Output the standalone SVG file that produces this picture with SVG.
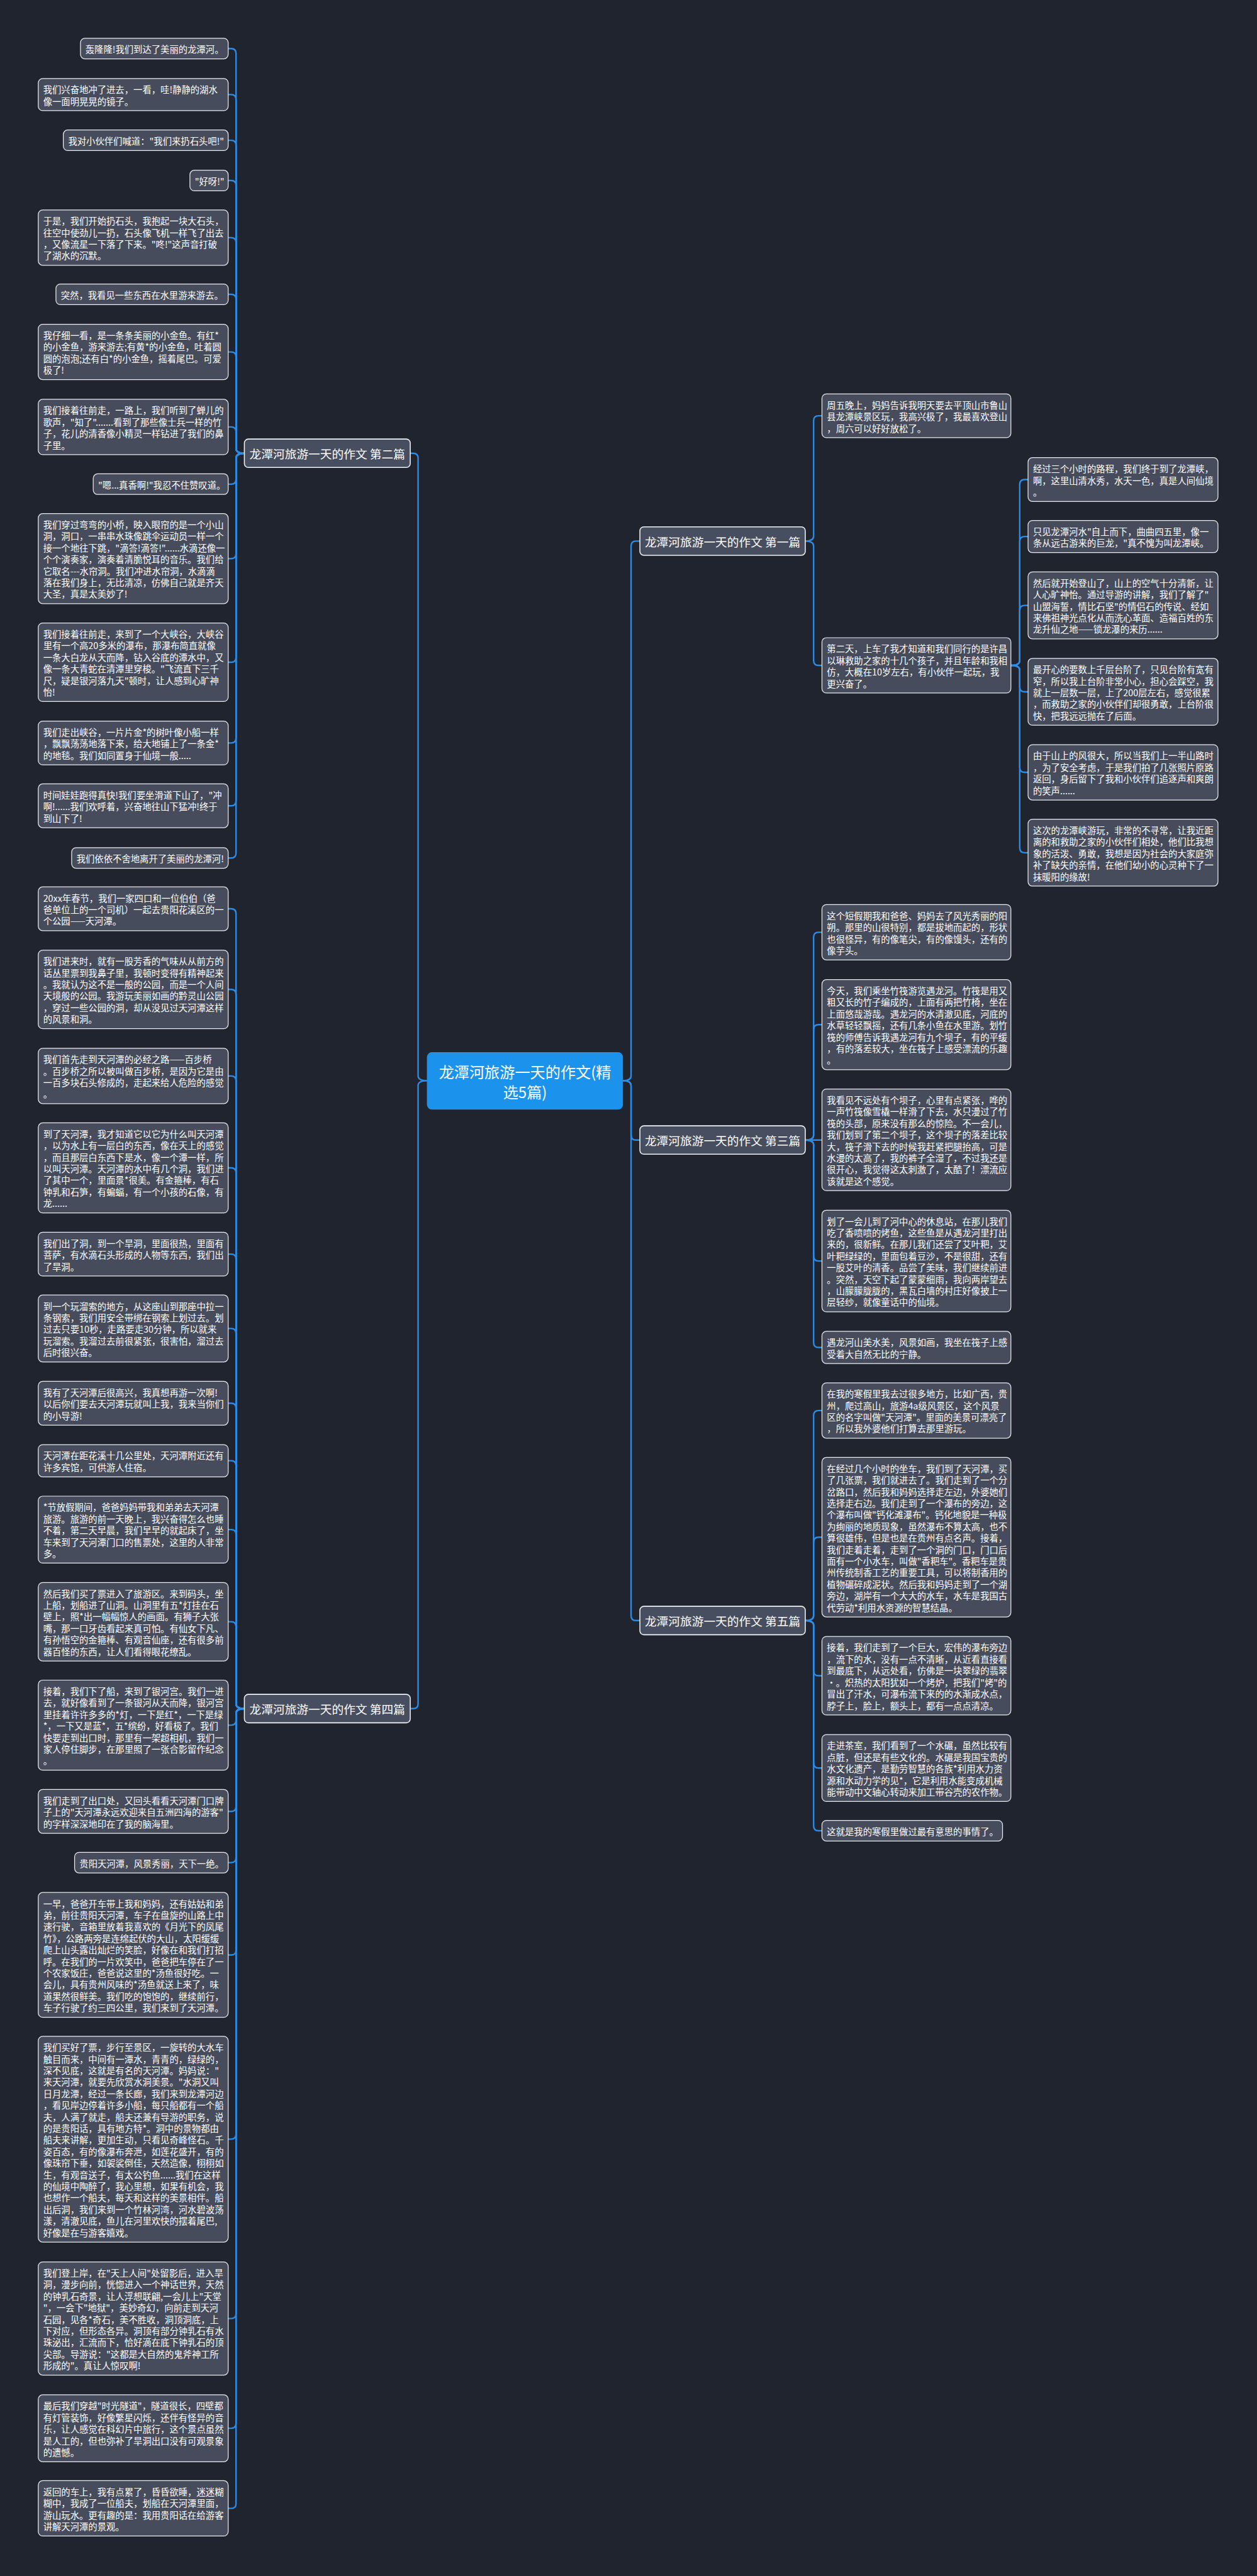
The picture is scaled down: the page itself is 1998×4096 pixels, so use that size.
<svg xmlns="http://www.w3.org/2000/svg" width="1998" height="4096" viewBox="0 0 1998 4096">
<style>
.bg{fill:#20242e}
.t{font-family:'Noto Sans CJK SC','Noto Sans',sans-serif;dominant-baseline:central}
.leaf rect{fill:#464c5c;stroke:#e9ebf0;stroke-width:1.6}
.leaf text{fill:#ffffff;font-size:18.4px}
.br rect{fill:#474e60;stroke:#f0f2f5;stroke-width:2}
.br text{fill:#ffffff;font-size:24px;text-anchor:middle}
.root rect{fill:#1b92ec}
.root text{fill:#ffffff;font-size:31px;text-anchor:middle}
.conn path{fill:none;stroke:#2b8de8;stroke-width:3;stroke-linecap:round}
</style>
<rect class="bg" x="0" y="0" width="1998" height="4096"/>
<g transform="scale(0.78)">
<g id="connectors" class="conn">
<path d="M870 2203Q852 2203 852 2193L852 934Q852 924 842 924L836 924"/>
<path d="M870 2203Q852 2203 852 2213L852 3473Q852 3483 842 3483L836 3483"/>
<path d="M1270 2203Q1286 2203 1286 2193L1286 1113Q1286 1103 1296 1103L1304 1103"/>
<path d="M1270 2203Q1286 2203 1286 2213L1286 2314Q1286 2324 1296 2324L1304 2324"/>
<path d="M1270 2203Q1286 2203 1286 2213L1286 3293.5Q1286 3303.5 1296 3303.5L1304 3303.5"/>
<path d="M498 924Q481 924 481 914L481 109Q481 99 471 99L465 99"/>
<path d="M498 924Q481 924 481 914L481 202.8Q481 192.8 471 192.8L465 192.8"/>
<path d="M498 924Q481 924 481 914L481 296Q481 286 471 286L465 286"/>
<path d="M498 924Q481 924 481 914L481 378Q481 368 471 368L465 368"/>
<path d="M498 924Q481 924 481 914L481 494.4Q481 484.4 471 484.4L465 484.4"/>
<path d="M498 924Q481 924 481 914L481 610Q481 600 471 600L465 600"/>
<path d="M498 924Q481 924 481 914L481 727.4Q481 717.4 471 717.4L465 717.4"/>
<path d="M498 924Q481 924 481 914L481 880.4Q481 870.4 471 870.4L465 870.4"/>
<path d="M498 924Q481 924 481 934L481 977Q481 987 471 987L465 987"/>
<path d="M498 924Q481 924 481 934L481 1128.8Q481 1138.8 471 1138.8L465 1138.8"/>
<path d="M498 924Q481 924 481 934L481 1340Q481 1350 471 1350L465 1350"/>
<path d="M498 924Q481 924 481 934L481 1504.6Q481 1514.6 471 1514.6L465 1514.6"/>
<path d="M498 924Q481 924 481 934L481 1632.6Q481 1642.6 471 1642.6L465 1642.6"/>
<path d="M498 924Q481 924 481 934L481 1739Q481 1749 471 1749L465 1749"/>
<path d="M498 3483Q481 3483 481 3473L481 1862.6Q481 1852.6 471 1852.6L465 1852.6"/>
<path d="M498 3483Q481 3483 481 3473L481 2027Q481 2017 471 2017L465 2017"/>
<path d="M498 3483Q481 3483 481 3473L481 2203.4Q481 2193.4 471 2193.4L465 2193.4"/>
<path d="M498 3483Q481 3483 481 3473L481 2390.8Q481 2380.8 471 2380.8L465 2380.8"/>
<path d="M498 3483Q481 3483 481 3473L481 2566.6Q481 2556.6 471 2556.6L465 2556.6"/>
<path d="M498 3483Q481 3483 481 3473L481 2718.2Q481 2708.2 471 2708.2L465 2708.2"/>
<path d="M498 3483Q481 3483 481 3473L481 2870.6Q481 2860.6 471 2860.6L465 2860.6"/>
<path d="M498 3483Q481 3483 481 3473L481 2987.8Q481 2977.8 471 2977.8L465 2977.8"/>
<path d="M498 3483Q481 3483 481 3473L481 3128.2Q481 3118.2 471 3118.2L465 3118.2"/>
<path d="M498 3483Q481 3483 481 3473L481 3316Q481 3306 471 3306L465 3306"/>
<path d="M498 3483Q481 3483 481 3493L481 3506.8Q481 3516.8 471 3516.8L465 3516.8"/>
<path d="M498 3483Q481 3483 481 3493L481 3682.6Q481 3692.6 471 3692.6L465 3692.6"/>
<path d="M498 3483Q481 3483 481 3493L481 3787Q481 3797 471 3797L465 3797"/>
<path d="M498 3483Q481 3483 481 3493L481 3975.2Q481 3985.2 471 3985.2L465 3985.2"/>
<path d="M498 3483Q481 3483 481 3493L481 4350.8Q481 4360.8 471 4360.8L465 4360.8"/>
<path d="M498 3483Q481 3483 481 3493L481 4716.4Q481 4726.4 471 4726.4L465 4726.4"/>
<path d="M498 3483Q481 3483 481 3493L481 4940.2Q481 4950.2 471 4950.2L465 4950.2"/>
<path d="M498 3483Q481 3483 481 3493L481 5103.4Q481 5113.4 471 5113.4L465 5113.4"/>
<path d="M1641 1103Q1658 1103 1658 1093L1658 857.6Q1658 847.6 1668 847.6L1675 847.6"/>
<path d="M1641 1103Q1658 1103 1658 1113L1658 1346.4Q1658 1356.4 1668 1356.4L1675 1356.4"/>
<path d="M2060 1356.4Q2078 1356.4 2078 1346.4L2078 987.6Q2078 977.6 2088 977.6L2095 977.6"/>
<path d="M2060 1356.4Q2078 1356.4 2078 1346.4L2078 1103.8Q2078 1093.8 2088 1093.8L2095 1093.8"/>
<path d="M2060 1356.4Q2078 1356.4 2078 1346.4L2078 1244.2Q2078 1234.2 2088 1234.2L2095 1234.2"/>
<path d="M2060 1356.4Q2078 1356.4 2078 1366.4L2078 1400.2Q2078 1410.2 2088 1410.2L2095 1410.2"/>
<path d="M2060 1356.4Q2078 1356.4 2078 1366.4L2078 1564.4Q2078 1574.4 2088 1574.4L2095 1574.4"/>
<path d="M2060 1356.4Q2078 1356.4 2078 1366.4L2078 1728.2Q2078 1738.2 2088 1738.2L2095 1738.2"/>
<path d="M1641 2324Q1658 2324 1658 2314L1658 1910.4Q1658 1900.4 1668 1900.4L1675 1900.4"/>
<path d="M1641 2324Q1658 2324 1658 2314L1658 2098.8Q1658 2088.8 1668 2088.8L1675 2088.8"/>
<path d="M1641 2324L1675 2324"/>
<path d="M1641 2324Q1658 2324 1658 2334L1658 2560.6Q1658 2570.6 1668 2570.6L1675 2570.6"/>
<path d="M1641 2324Q1658 2324 1658 2334L1658 2736.8Q1658 2746.8 1668 2746.8L1675 2746.8"/>
<path d="M1641 3303.5Q1658 3303.5 1658 3293.5L1658 2885.4Q1658 2875.4 1668 2875.4L1675 2875.4"/>
<path d="M1641 3303.5Q1658 3303.5 1658 3293.5L1658 3143.6Q1658 3133.6 1668 3133.6L1675 3133.6"/>
<path d="M1641 3303.5Q1658 3303.5 1658 3313.5L1658 3406Q1658 3416 1668 3416L1675 3416"/>
<path d="M1641 3303.5Q1658 3303.5 1658 3313.5L1658 3594.2Q1658 3604.2 1668 3604.2L1675 3604.2"/>
<path d="M1641 3303.5Q1658 3303.5 1658 3313.5L1658 3722Q1658 3732 1668 3732L1675 3732"/>
</g>

<g id="root" class="root">
<rect x="870" y="2145" width="399.5" height="117" rx="10"/>
<text class="t"><tspan x="1070" y="2183">龙潭河旅游一天的作文(精</tspan><tspan x="1070" y="2225">选5篇)</tspan></text>
</g>

<g id="b2" class="br"><rect x="498" y="895" width="338" height="58" rx="8"/><text class="t" x="667" y="924">龙潭河旅游一天的作文 第二篇</text></g>
<g id="b4" class="br"><rect x="498" y="3454" width="338" height="58" rx="8"/><text class="t" x="667" y="3483">龙潭河旅游一天的作文 第四篇</text></g>
<g id="b1" class="br"><rect x="1304" y="1074" width="337" height="58" rx="8"/><text class="t" x="1472.5" y="1103">龙潭河旅游一天的作文 第一篇</text></g>
<g id="b3" class="br"><rect x="1304" y="2295" width="337" height="58" rx="8"/><text class="t" x="1472.5" y="2324">龙潭河旅游一天的作文 第三篇</text></g>
<g id="b5" class="br"><rect x="1304" y="3274.5" width="337" height="58" rx="8"/><text class="t" x="1472.5" y="3303.5">龙潭河旅游一天的作文 第五篇</text></g>

<g id="l1" class="leaf"><rect x="164" y="78" width="301" height="42" rx="9"/><text class="t"><tspan x="174" y="99">轰隆隆!我们到达了美丽的龙潭河。</tspan></text></g>
<g id="l2" class="leaf"><rect x="78" y="160" width="387" height="65.6" rx="9"/><text class="t"><tspan x="88" y="181">我们兴奋地冲了进去，一看，哇!静静的湖水</tspan><tspan x="88" y="204.6">像一面明晃晃的镜子。</tspan></text></g>
<g id="l3" class="leaf"><rect x="129" y="265" width="336" height="42" rx="9"/><text class="t"><tspan x="139" y="286">我对小伙伴们喊道："我们来扔石头吧!"</tspan></text></g>
<g id="l4" class="leaf"><rect x="387" y="347" width="78" height="42" rx="9"/><text class="t"><tspan x="397" y="368">"好呀!"</tspan></text></g>
<g id="l5" class="leaf"><rect x="78" y="428" width="387" height="112.8" rx="9"/><text class="t"><tspan x="88" y="449">于是，我们开始扔石头，我抱起一块大石头，</tspan><tspan x="88" y="472.6">往空中使劲儿一扔，石头像飞机一样飞了出去</tspan><tspan x="88" y="496.2">，又像流星一下落了下来。"咚!"这声音打破</tspan><tspan x="88" y="519.8">了湖水的沉默。</tspan></text></g>
<g id="l6" class="leaf"><rect x="114" y="579" width="351" height="42" rx="9"/><text class="t"><tspan x="124" y="600">突然，我看见一些东西在水里游来游去。</tspan></text></g>
<g id="l7" class="leaf"><rect x="78" y="661" width="387" height="112.8" rx="9"/><text class="t"><tspan x="88" y="682">我仔细一看，是一条条美丽的小金鱼。有红*</tspan><tspan x="88" y="705.6">的小金鱼，游来游去;有黄*的小金鱼，吐着圆</tspan><tspan x="88" y="729.2">圆的泡泡;还有白*的小金鱼，摇着尾巴。可爱</tspan><tspan x="88" y="752.8">极了!</tspan></text></g>
<g id="l8" class="leaf"><rect x="78" y="814" width="387" height="112.8" rx="9"/><text class="t"><tspan x="88" y="835">我们接着往前走，一路上，我们听到了蝉儿的</tspan><tspan x="88" y="858.6">歌声，"知了".......看到了那些像士兵一样的竹</tspan><tspan x="88" y="882.2">子，花儿的清香像小精灵一样钻进了我们的鼻</tspan><tspan x="88" y="905.8">子里。</tspan></text></g>
<g id="l9" class="leaf"><rect x="190" y="966" width="275" height="42" rx="9"/><text class="t"><tspan x="200" y="987">"嗯...真香啊!"我忍不住赞叹道。</tspan></text></g>
<g id="l10" class="leaf"><rect x="78" y="1047" width="387" height="183.6" rx="9"/><text class="t"><tspan x="88" y="1068">我们穿过弯弯的小桥，映入眼帘的是一个小山</tspan><tspan x="88" y="1091.6">洞，洞口，一串串水珠像跳伞运动员一样一个</tspan><tspan x="88" y="1115.2">接一个地往下跳，"滴答!滴答!"......水滴还像一</tspan><tspan x="88" y="1138.8">个个演奏家，演奏着清脆悦耳的音乐。我们给</tspan><tspan x="88" y="1162.4">它取名---水帘洞。我们冲进水帘洞，水滴滴</tspan><tspan x="88" y="1186">落在我们身上，无比清凉，仿佛自己就是齐天</tspan><tspan x="88" y="1209.6">大圣，真是太美妙了!</tspan></text></g>
<g id="l11" class="leaf"><rect x="78" y="1270" width="387" height="160" rx="9"/><text class="t"><tspan x="88" y="1291">我们接着往前走，来到了一个大峡谷，大峡谷</tspan><tspan x="88" y="1314.6">里有一个高20多米的瀑布，那瀑布简直就像</tspan><tspan x="88" y="1338.2">一条大白龙从天而降，钻入谷底的潭水中，又</tspan><tspan x="88" y="1361.8">像一条大青蛇在清潭里穿梭。"飞流直下三千</tspan><tspan x="88" y="1385.4">尺，疑是银河落九天"顿时，让人感到心旷神</tspan><tspan x="88" y="1409">怡!</tspan></text></g>
<g id="l12" class="leaf"><rect x="78" y="1470" width="387" height="89.2" rx="9"/><text class="t"><tspan x="88" y="1491">我们走出峡谷，一片片金*的树叶像小船一样</tspan><tspan x="88" y="1514.6">，飘飘荡荡地落下来，给大地铺上了一条金*</tspan><tspan x="88" y="1538.2">的地毯。我们如同置身于仙境一般.....</tspan></text></g>
<g id="l13" class="leaf"><rect x="78" y="1598" width="387" height="89.2" rx="9"/><text class="t"><tspan x="88" y="1619">时间娃娃跑得真快!我们要坐滑道下山了，"冲</tspan><tspan x="88" y="1642.6">啊!......我们欢呼着，兴奋地往山下猛冲!终于</tspan><tspan x="88" y="1666.2">到山下了!</tspan></text></g>
<g id="l14" class="leaf"><rect x="146" y="1728" width="319" height="42" rx="9"/><text class="t"><tspan x="156" y="1749">我们依依不舍地离开了美丽的龙潭河!</tspan></text></g>

<g id="f1" class="leaf"><rect x="78" y="1808" width="387" height="89.2" rx="9"/><text class="t"><tspan x="88" y="1829">20xx年春节，我们一家四口和一位伯伯（爸</tspan><tspan x="88" y="1852.6">爸单位上的一个司机）一起去贵阳花溪区的一</tspan><tspan x="88" y="1876.2">个公园——天河潭。</tspan></text></g>
<g id="f2" class="leaf"><rect x="78" y="1937" width="387" height="160" rx="9"/><text class="t"><tspan x="88" y="1958">我们进来时，就有一股芳香的气味从从前方的</tspan><tspan x="88" y="1981.6">话丛里票到我鼻子里，我顿时变得有精神起来</tspan><tspan x="88" y="2005.2">。我就认为这不是一般的公园，而是一个人间</tspan><tspan x="88" y="2028.8">天境般的公园。我游玩美丽如画的黔灵山公园</tspan><tspan x="88" y="2052.4">，穿过一些公园的洞，却从没见过天河潭这样</tspan><tspan x="88" y="2076">的风景和洞。</tspan></text></g>
<g id="f3" class="leaf"><rect x="78" y="2137" width="387" height="112.8" rx="9"/><text class="t"><tspan x="88" y="2158">我们首先走到天河潭的必经之路——百步桥</tspan><tspan x="88" y="2181.6">。百步桥之所以被叫做百步桥，是因为它是由</tspan><tspan x="88" y="2205.2">一百多块石头修成的，走起来给人危险的感觉</tspan><tspan x="88" y="2228.8">。</tspan></text></g>
<g id="f4" class="leaf"><rect x="78" y="2289" width="387" height="183.6" rx="9"/><text class="t"><tspan x="88" y="2310">到了天河潭，我才知道它以它为什么叫天河潭</tspan><tspan x="88" y="2333.6">，以为水上有一层白的东西，像在天上的感觉</tspan><tspan x="88" y="2357.2">，而且那层白东西下是水，像一个潭一样，所</tspan><tspan x="88" y="2380.8">以叫天河潭。天河潭的水中有几个洞，我们进</tspan><tspan x="88" y="2404.4">了其中一个，里面景*很美。有金箍棒，有石</tspan><tspan x="88" y="2428">钟乳和石笋，有蝙蝠，有一个小孩的石像，有</tspan><tspan x="88" y="2451.6">龙......</tspan></text></g>
<g id="f5" class="leaf"><rect x="78" y="2512" width="387" height="89.2" rx="9"/><text class="t"><tspan x="88" y="2533">我们出了洞，到一个旱洞，里面很热，里面有</tspan><tspan x="88" y="2556.6">菩萨，有水滴石头形成的人物等东西，我们出</tspan><tspan x="88" y="2580.2">了旱洞。</tspan></text></g>
<g id="f6" class="leaf"><rect x="78" y="2640" width="387" height="136.4" rx="9"/><text class="t"><tspan x="88" y="2661">到一个玩溜索的地方，从这座山到那座中拉一</tspan><tspan x="88" y="2684.6">条钢索，我们用安全带绑在钢索上划过去。划</tspan><tspan x="88" y="2708.2">过去只要10秒，走路要走30分钟，所以就来</tspan><tspan x="88" y="2731.8">玩溜索。我溜过去前很紧张，很害怕，溜过去</tspan><tspan x="88" y="2755.4">后时很兴奋。</tspan></text></g>
<g id="f7" class="leaf"><rect x="78" y="2816" width="387" height="89.2" rx="9"/><text class="t"><tspan x="88" y="2837">我有了天河潭后很高兴，我真想再游一次啊!</tspan><tspan x="88" y="2860.6">以后你们要去天河潭玩就叫上我，我来当你们</tspan><tspan x="88" y="2884.2">的小导游!</tspan></text></g>
<g id="f8" class="leaf"><rect x="78" y="2945" width="387" height="65.6" rx="9"/><text class="t"><tspan x="88" y="2966">天河潭在距花溪十几公里处，天河潭附近还有</tspan><tspan x="88" y="2989.6">许多宾馆，可供游人住宿。</tspan></text></g>
<g id="f9" class="leaf"><rect x="78" y="3050" width="387" height="136.4" rx="9"/><text class="t"><tspan x="88" y="3071">*节放假期间，爸爸妈妈带我和弟弟去天河潭</tspan><tspan x="88" y="3094.6">旅游。旅游的前一天晚上，我兴奋得怎么也睡</tspan><tspan x="88" y="3118.2">不着，第二天早晨，我们早早的就起床了，坐</tspan><tspan x="88" y="3141.8">车来到了天河潭门口的售票处，这里的人非常</tspan><tspan x="88" y="3165.4">多。</tspan></text></g>
<g id="f10" class="leaf"><rect x="78" y="3226" width="387" height="160" rx="9"/><text class="t"><tspan x="88" y="3247">然后我们买了票进入了旅游区。来到码头，坐</tspan><tspan x="88" y="3270.6">上船，划船进了山洞。山洞里有五*灯挂在石</tspan><tspan x="88" y="3294.2">壁上，照*出一幅幅惊人的画面。有狮子大张</tspan><tspan x="88" y="3317.8">嘴，那一口牙齿看起来真可怕。有仙女下凡、</tspan><tspan x="88" y="3341.4">有孙悟空的金箍棒、有观音仙座，还有很多前</tspan><tspan x="88" y="3365">器百怪的东西，让人们看得眼花缭乱。</tspan></text></g>
<g id="f11" class="leaf"><rect x="78" y="3425" width="387" height="183.6" rx="9"/><text class="t"><tspan x="88" y="3446">接着，我们下了船，来到了银河宫。我们一进</tspan><tspan x="88" y="3469.6">去，就好像看到了一条银河从天而降，银河宫</tspan><tspan x="88" y="3493.2">里挂着许许多多的*灯，一下是红*，一下是绿</tspan><tspan x="88" y="3516.8">*，一下又是蓝*，五*缤纷，好看极了。我们</tspan><tspan x="88" y="3540.4">快要走到出口时，那里有一架超相机，我们一</tspan><tspan x="88" y="3564">家人停住脚步，在那里照了一张合影留作纪念</tspan><tspan x="88" y="3587.6">。</tspan></text></g>
<g id="f12" class="leaf"><rect x="78" y="3648" width="387" height="89.2" rx="9"/><text class="t"><tspan x="88" y="3669">我们走到了出口处，又回头看看天河潭门口牌</tspan><tspan x="88" y="3692.6">子上的"天河潭永远欢迎来自五洲四海的游客"</tspan><tspan x="88" y="3716.2">的字样深深地印在了我的脑海里。</tspan></text></g>
<g id="f13" class="leaf"><rect x="152" y="3776" width="313" height="42" rx="9"/><text class="t"><tspan x="162" y="3797">贵阳天河潭，风景秀丽，天下一绝。</tspan></text></g>
<g id="f14" class="leaf"><rect x="78" y="3858" width="387" height="254.4" rx="9"/><text class="t"><tspan x="88" y="3879">一早，爸爸开车带上我和妈妈，还有姑姑和弟</tspan><tspan x="88" y="3902.6">弟，前往贵阳天河潭，车子在盘旋的山路上中</tspan><tspan x="88" y="3926.2">速行驶，音箱里放着我喜欢的《月光下的凤尾</tspan><tspan x="88" y="3949.8">竹》，公路两旁是连绵起伏的大山，太阳缓缓</tspan><tspan x="88" y="3973.4">爬上山头露出灿烂的笑脸，好像在和我们打招</tspan><tspan x="88" y="3997">呼。在我们的一片欢笑中，爸爸把车停在了一</tspan><tspan x="88" y="4020.6">个农家饭庄，爸爸说这里的*汤鱼很好吃。一</tspan><tspan x="88" y="4044.2">会儿，具有贵州风味的*汤鱼就送上来了，味</tspan><tspan x="88" y="4067.8">道果然很鲜美。我们吃的饱饱的，继续前行，</tspan><tspan x="88" y="4091.4">车子行驶了约三四公里，我们来到了天河潭。</tspan></text></g>
<g id="f15" class="leaf"><rect x="78" y="4151" width="387" height="419.6" rx="9"/><text class="t"><tspan x="88" y="4172">我们买好了票，步行至景区，一旋转的大水车</tspan><tspan x="88" y="4195.6">触目而来，中间有一潭水，青青的，绿绿的，</tspan><tspan x="88" y="4219.2">深不见底，这就是有名的天河潭。妈妈说："</tspan><tspan x="88" y="4242.8">来天河潭，就要先欣赏水洞美景。"水洞又叫</tspan><tspan x="88" y="4266.4">日月龙潭，经过一条长廊，我们来到龙潭河边</tspan><tspan x="88" y="4290">，看见岸边停着许多小船，每只船都有一个船</tspan><tspan x="88" y="4313.6">夫，人满了就走，船夫还兼有导游的职务，说</tspan><tspan x="88" y="4337.2">的是贵阳话，具有地方特*。洞中的景物都由</tspan><tspan x="88" y="4360.8">船夫来讲解，更加生动，只看见奇峰怪石。千</tspan><tspan x="88" y="4384.4">姿百态，有的像瀑布奔泄，如莲花盛开，有的</tspan><tspan x="88" y="4408">像珠帘下垂，如袈裟倒佳，天然造像，栩栩如</tspan><tspan x="88" y="4431.6">生，有观音送子，有太公钓鱼......我们在这样</tspan><tspan x="88" y="4455.2">的仙境中陶醉了，我心里想，如果有机会，我</tspan><tspan x="88" y="4478.8">也想作一个船夫，每天和这样的美景相伴。船</tspan><tspan x="88" y="4502.4">出后洞，我们来到一个竹林河湾，河水碧波荡</tspan><tspan x="88" y="4526">漾，清澈见底，鱼儿在河里欢快的摆着尾巴,</tspan><tspan x="88" y="4549.6">好像是在与游客嬉戏。</tspan></text></g>
<g id="f16" class="leaf"><rect x="78" y="4611" width="387" height="230.8" rx="9"/><text class="t"><tspan x="88" y="4632">我们登上岸，在"天上人间"处留影后，进入旱</tspan><tspan x="88" y="4655.6">洞，漫步向前，恍惚进入一个神话世界，天然</tspan><tspan x="88" y="4679.2">的钟乳石奇景，让人浮想联翩,一会儿上"天堂</tspan><tspan x="88" y="4702.8">"，一会下"地狱"，美妙奇幻，向前走到天河</tspan><tspan x="88" y="4726.4">石园，见各*奇石，美不胜收，洞顶洞底，上</tspan><tspan x="88" y="4750">下对应，但形态各异。洞顶有部分钟乳石有水</tspan><tspan x="88" y="4773.6">珠泌出，汇流而下，恰好滴在底下钟乳石的顶</tspan><tspan x="88" y="4797.2">尖部。导游说："这都是大自然的鬼斧神工所</tspan><tspan x="88" y="4820.8">形成的"。真让人惊叹啊!</tspan></text></g>
<g id="f17" class="leaf"><rect x="78" y="4882" width="387" height="136.4" rx="9"/><text class="t"><tspan x="88" y="4903">最后我们穿越"时光隧道"，隧道很长，四壁都</tspan><tspan x="88" y="4926.6">有灯管装饰，好像繁星闪烁，还伴有怪异的音</tspan><tspan x="88" y="4950.2">乐，让人感觉在科幻片中旅行，这个景点虽然</tspan><tspan x="88" y="4973.8">是人工的，但也弥补了旱洞出口没有可观景象</tspan><tspan x="88" y="4997.4">的遗憾。</tspan></text></g>
<g id="f18" class="leaf"><rect x="78" y="5057" width="387" height="112.8" rx="9"/><text class="t"><tspan x="88" y="5078">返回的车上，我有点累了，昏昏欲睡，迷迷糊</tspan><tspan x="88" y="5101.6">糊中，我成了一位船夫，划船在天河潭里面，</tspan><tspan x="88" y="5125.2">游山玩水。更有趣的是：我用贵阳话在给游客</tspan><tspan x="88" y="5148.8">讲解天河潭的景观。</tspan></text></g>

<g id="r1" class="leaf"><rect x="1675" y="803" width="385" height="89.2" rx="9"/><text class="t"><tspan x="1685" y="824">周五晚上，妈妈告诉我明天要去平顶山市鲁山</tspan><tspan x="1685" y="847.6">县龙潭峡景区玩，我高兴极了，我最喜欢登山</tspan><tspan x="1685" y="871.2">，周六可以好好放松了。</tspan></text></g>
<g id="r2" class="leaf"><rect x="1675" y="1300" width="385" height="112.8" rx="9"/><text class="t"><tspan x="1685" y="1321">第二天，上车了我才知道和我们同行的是许昌</tspan><tspan x="1685" y="1344.6">以琳救助之家的十几个孩子，并且年龄和我相</tspan><tspan x="1685" y="1368.2">仿，大概在10岁左右，有小伙伴一起玩，我</tspan><tspan x="1685" y="1391.8">更兴奋了。</tspan></text></g>
<g id="s1" class="leaf"><rect x="2095" y="933" width="387" height="89.2" rx="9"/><text class="t"><tspan x="2105" y="954">经过三个小时的路程，我们终于到了龙潭峡，</tspan><tspan x="2105" y="977.6">啊，这里山清水秀，水天一色，真是人间仙境</tspan><tspan x="2105" y="1001.2">。</tspan></text></g>
<g id="s2" class="leaf"><rect x="2095" y="1061" width="387" height="65.6" rx="9"/><text class="t"><tspan x="2105" y="1082">只见龙潭河水"自上而下，曲曲四五里，像一</tspan><tspan x="2105" y="1105.6">条从远古游来的巨龙，"真不愧为叫龙潭峡。</tspan></text></g>
<g id="s3" class="leaf"><rect x="2095" y="1166" width="387" height="136.4" rx="9"/><text class="t"><tspan x="2105" y="1187">然后就开始登山了，山上的空气十分清新，让</tspan><tspan x="2105" y="1210.6">人心旷神怡。通过导游的讲解，我们了解了"</tspan><tspan x="2105" y="1234.2">山盟海誓，情比石坚"的情侣石的传说、经如</tspan><tspan x="2105" y="1257.8">来佛祖神光点化从而洗心革面、造福百姓的东</tspan><tspan x="2105" y="1281.4">龙升仙之地——锁龙瀑的来历......</tspan></text></g>
<g id="s4" class="leaf"><rect x="2095" y="1342" width="387" height="136.4" rx="9"/><text class="t"><tspan x="2105" y="1363">最开心的要数上千层台阶了，只见台阶有宽有</tspan><tspan x="2105" y="1386.6">窄，所以我上台阶非常小心，担心会踩空，我</tspan><tspan x="2105" y="1410.2">就上一层数一层，上了200层左右，感觉很累</tspan><tspan x="2105" y="1433.8">，而救助之家的小伙伴们却很勇敢，上台阶很</tspan><tspan x="2105" y="1457.4">快，把我远远抛在了后面。</tspan></text></g>
<g id="s5" class="leaf"><rect x="2095" y="1518" width="387" height="112.8" rx="9"/><text class="t"><tspan x="2105" y="1539">由于山上的风很大，所以当我们上一半山路时</tspan><tspan x="2105" y="1562.6">，为了安全考虑，于是我们拍了几张照片原路</tspan><tspan x="2105" y="1586.2">返回，身后留下了我和小伙伴们追逐声和爽朗</tspan><tspan x="2105" y="1609.8">的笑声......</tspan></text></g>
<g id="s6" class="leaf"><rect x="2095" y="1670" width="387" height="136.4" rx="9"/><text class="t"><tspan x="2105" y="1691">这次的龙潭峡游玩，非常的不寻常，让我近距</tspan><tspan x="2105" y="1714.6">离的和救助之家的小伙伴们相处，他们比我想</tspan><tspan x="2105" y="1738.2">象的活泼、勇敢，我想是因为社会的大家庭弥</tspan><tspan x="2105" y="1761.8">补了缺失的亲情，在他们幼小的心灵种下了一</tspan><tspan x="2105" y="1785.4">抹暖阳的缘故!</tspan></text></g>

<g id="t1" class="leaf"><rect x="1675" y="1844" width="385" height="112.8" rx="9"/><text class="t"><tspan x="1685" y="1865">这个短假期我和爸爸、妈妈去了风光秀丽的阳</tspan><tspan x="1685" y="1888.6">朔。那里的山很特别，都是拔地而起的，形状</tspan><tspan x="1685" y="1912.2">也很怪异，有的像笔尖，有的像馒头，还有的</tspan><tspan x="1685" y="1935.8">像芋头。</tspan></text></g>
<g id="t2" class="leaf"><rect x="1675" y="1997" width="385" height="183.6" rx="9"/><text class="t"><tspan x="1685" y="2018">今天，我们乘坐竹筏游览遇龙河。竹筏是用又</tspan><tspan x="1685" y="2041.6">粗又长的竹子编成的，上面有两把竹椅，坐在</tspan><tspan x="1685" y="2065.2">上面悠哉游哉。遇龙河的水清澈见底，河底的</tspan><tspan x="1685" y="2088.8">水草轻轻飘摇，还有几条小鱼在水里游。划竹</tspan><tspan x="1685" y="2112.4">筏的师傅告诉我遇龙河有九个坝子，有的平缓</tspan><tspan x="1685" y="2136">，有的落差较大，坐在筏子上感受漂流的乐趣</tspan><tspan x="1685" y="2159.6">。</tspan></text></g>
<g id="t3" class="leaf"><rect x="1675" y="2220" width="385" height="207.2" rx="9"/><text class="t"><tspan x="1685" y="2241">我看见不远处有个坝子，心里有点紧张，哗的</tspan><tspan x="1685" y="2264.6">一声竹筏像雪橇一样滑了下去，水只漫过了竹</tspan><tspan x="1685" y="2288.2">筏的头部，原来没有那么的惊险。不一会儿，</tspan><tspan x="1685" y="2311.8">我们划到了第二个坝子，这个坝子的落差比较</tspan><tspan x="1685" y="2335.4">大，筏子滑下去的时候我赶紧把腿抬高，可是</tspan><tspan x="1685" y="2359">水漫的太高了，我的裤子全湿了，不过我还是</tspan><tspan x="1685" y="2382.6">很开心，我觉得这太刺激了，太酷了！漂流应</tspan><tspan x="1685" y="2406.2">该就是这个感觉。</tspan></text></g>
<g id="t4" class="leaf"><rect x="1675" y="2467" width="385" height="207.2" rx="9"/><text class="t"><tspan x="1685" y="2488">划了一会儿到了河中心的休息站，在那儿我们</tspan><tspan x="1685" y="2511.6">吃了香喷喷的烤鱼，这些鱼是从遇龙河里打出</tspan><tspan x="1685" y="2535.2">来的，很新鲜。在那儿我们还尝了艾叶粑，艾</tspan><tspan x="1685" y="2558.8">叶粑绿绿的，里面包着豆沙，不是很甜，还有</tspan><tspan x="1685" y="2582.4">一股艾叶的清香。品尝了美味，我们继续前进</tspan><tspan x="1685" y="2606">。突然，天空下起了蒙蒙细雨，我向两岸望去</tspan><tspan x="1685" y="2629.6">，山朦朦胧胧的，黑瓦白墙的村庄好像披上一</tspan><tspan x="1685" y="2653.2">层轻纱，就像童话中的仙境。</tspan></text></g>
<g id="t5" class="leaf"><rect x="1675" y="2714" width="385" height="65.6" rx="9"/><text class="t"><tspan x="1685" y="2735">遇龙河山美水美，风景如画，我坐在筏子上感</tspan><tspan x="1685" y="2758.6">受着大自然无比的宁静。</tspan></text></g>

<g id="v1" class="leaf"><rect x="1675" y="2819" width="385" height="112.8" rx="9"/><text class="t"><tspan x="1685" y="2840">在我的寒假里我去过很多地方，比如广西，贵</tspan><tspan x="1685" y="2863.6">州，爬过高山，旅游4a级风景区，这个风景</tspan><tspan x="1685" y="2887.2">区的名字叫做"天河潭"。里面的美景可漂亮了</tspan><tspan x="1685" y="2910.8">，所以我外婆他们打算去那里游玩。</tspan></text></g>
<g id="v2" class="leaf"><rect x="1675" y="2971" width="385" height="325.2" rx="9"/><text class="t"><tspan x="1685" y="2992">在经过几个小时的坐车，我们到了天河潭，买</tspan><tspan x="1685" y="3015.6">了几张票，我们就进去了。我们走到了一个分</tspan><tspan x="1685" y="3039.2">岔路口，然后我和妈妈选择走左边，外婆她们</tspan><tspan x="1685" y="3062.8">选择走右边。我们走到了一个瀑布的旁边，这</tspan><tspan x="1685" y="3086.4">个瀑布叫做"钙化滩瀑布"。钙化地貌是一种极</tspan><tspan x="1685" y="3110">为绚丽的地质现象，虽然瀑布不算太高，也不</tspan><tspan x="1685" y="3133.6">算很雄伟，但是也是在贵州有点名声。接着，</tspan><tspan x="1685" y="3157.2">我们走着走着，走到了一个洞的门口，门口后</tspan><tspan x="1685" y="3180.8">面有一个小水车，叫做"香粑车"。香粑车是贵</tspan><tspan x="1685" y="3204.4">州传统制香工艺的重要工具，可以将制香用的</tspan><tspan x="1685" y="3228">植物碾碎成泥状。然后我和妈妈走到了一个湖</tspan><tspan x="1685" y="3251.6">旁边，湖岸有一个大大的水车，水车是我国古</tspan><tspan x="1685" y="3275.2">代劳动*利用水资源的智慧结晶。</tspan></text></g>
<g id="v3" class="leaf"><rect x="1675" y="3336" width="385" height="160" rx="9"/><text class="t"><tspan x="1685" y="3357">接着，我们走到了一个巨大，宏伟的瀑布旁边</tspan><tspan x="1685" y="3380.6">，流下的水，没有一点不清晰，从近看直接看</tspan><tspan x="1685" y="3404.2">到最底下，从远处看，仿佛是一块翠绿的翡翠</tspan><tspan x="1685" y="3427.8">·。炽热的太阳犹如一个烤炉，把我们"烤"的</tspan><tspan x="1685" y="3451.4">冒出了汗水，可瀑布流下来的的水渐成水点，</tspan><tspan x="1685" y="3475">脖子上，脸上，额头上，都有一点点清凉。</tspan></text></g>
<g id="v4" class="leaf"><rect x="1675" y="3536" width="385" height="136.4" rx="9"/><text class="t"><tspan x="1685" y="3557">走进茶室，我们看到了一个水碾，虽然比较有</tspan><tspan x="1685" y="3580.6">点脏，但还是有些文化的。水碾是我国宝贵的</tspan><tspan x="1685" y="3604.2">水文化遗产，是勤劳智慧的各族*利用水力资</tspan><tspan x="1685" y="3627.8">源和水动力学的见*，它是利用水能变成机械</tspan><tspan x="1685" y="3651.4">能带动中文轴心转动来加工带谷壳的农作物。</tspan></text></g>
<g id="v5" class="leaf"><rect x="1675" y="3711" width="368" height="42" rx="9"/><text class="t"><tspan x="1685" y="3732">这就是我的寒假里做过最有意思的事情了。</tspan></text></g>
</g>
</svg>
